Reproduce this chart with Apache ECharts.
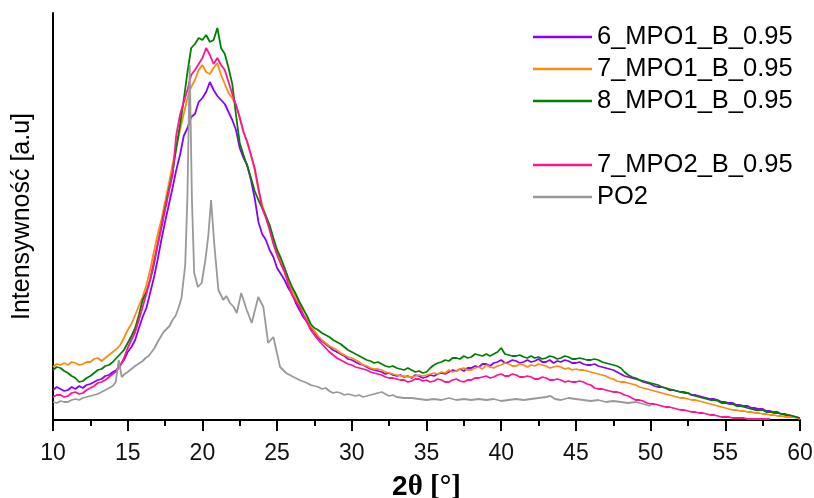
<!DOCTYPE html>
<html>
<head>
<meta charset="utf-8">
<script src="https://cdn.jsdelivr.net/npm/echarts@6/dist/echarts.min.js"></script>
<style>html,body{margin:0;padding:0;background:#fff}#c{width:814px;height:498px}</style>
</head>
<body>
<div id="c"></div>
<script>
// 2θ grid for the four MPO series: 10° .. 60° in 0.25° steps
const thetaStart = 10, thetaStep = 0.25;
const seriesNames = ['6_MPO1_B_0.95', '7_MPO1_B_0.95', '8_MPO1_B_0.95', '7_MPO2_B_0.95', 'PO2'];
const xTicks = [10, 15, 20, 25, 30, 35, 40, 45, 50, 55, 60];

const mpo1_6 = [30,33,31,29,30,33,31,34,32,35,36,38,40,41,44,45,48,50,55,60,68,73,80,92,103,112,127,142,160,180,198,215,232,250,265,284,292,303,306,318,322,328,338,330,324,320,316,308,300,290,272,262,255,240,222,198,186,180,170,163,152,146,140,132,126,117,110,103,98,92,88,82,79,76,73,70,68,66,64,61,60,58,56,55,53,51,50,49,48,46,47,45,44,45,43,44,42,45,44,42,43,45,44,46,47,46,48,50,49,51,49,52,52,54,53,56,56,54,57,58,60,57,58,60,59,57,58,60,58,59,61,58,58,60,57,59,58,60,59,57,57,58,56,55,55,56,54,53,52,51,50,48,46,44,43,42,41,40,38,37,36,34,33,33,32,30,30,29,28,28,27,25,25,24,23,22,21,21,20,18,18,17,17,15,15,14,14,12,12,11,11,9,9,8,8,6,6,5,4,3,2];

const mpo1_7 = [53,56,55,57,55,58,57,55,56,58,58,61,62,59,62,65,68,71,75,82,90,96,105,114,123,135,150,168,185,200,218,236,255,272,290,306,322,333,340,350,355,348,346,352,357,345,336,327,322,315,303,288,278,265,250,230,215,204,192,178,166,160,152,140,130,122,116,106,100,94,89,84,80,77,74,72,70,67,65,63,62,60,58,55,54,52,51,51,50,48,47,46,45,44,44,43,43,44,45,44,45,46,47,46,48,47,50,48,49,51,52,50,50,52,53,51,55,53,52,54,55,57,56,54,54,56,55,53,55,54,56,55,54,52,53,54,53,51,52,50,51,50,50,49,48,47,46,45,44,42,41,39,38,38,37,36,35,33,32,31,30,29,28,27,26,25,24,23,22,22,21,20,20,19,18,17,16,15,14,13,12,11,10,10,9,9,8,8,7,7,6,6,5,5,4,4,3,3,3,2,1];

const mpo1_8 = [50,53,52,49,47,44,42,38,39,42,44,47,50,51,54,55,58,62,66,70,77,84,92,105,120,128,140,155,175,193,212,230,247,272,295,320,348,372,376,382,380,385,378,380,392,372,366,352,336,305,277,265,254,242,229,220,212,204,195,182,170,162,152,142,133,126,118,111,104,96,92,90,87,85,83,80,78,76,73,70,68,66,64,62,60,59,57,58,56,54,53,54,52,51,50,52,50,48,49,47,48,52,55,57,58,60,59,62,62,61,64,62,63,66,65,64,66,64,66,68,72,66,65,64,64,65,63,62,64,62,63,61,62,64,63,61,62,64,63,61,61,62,61,60,60,61,60,58,57,56,55,54,52,48,45,43,42,40,39,38,37,36,35,33,32,31,30,29,28,27,27,25,24,23,22,21,20,20,19,17,17,16,16,14,14,13,12,11,10,10,10,8,8,7,7,6,5,5,4,3,2];

const mpo2_7 = [23,25,25,23,24,27,28,26,27,30,32,34,37,38,40,43,46,49,54,62,72,80,88,100,113,126,140,158,175,192,210,228,245,285,305,318,330,345,350,356,362,372,365,356,362,355,350,338,326,315,302,288,278,265,252,232,212,202,190,176,165,156,148,136,125,119,113,105,98,90,85,80,76,72,68,65,62,60,58,56,55,53,52,51,50,48,47,46,45,43,42,42,41,40,40,38,39,41,41,39,40,38,39,41,40,38,38,40,41,39,38,40,40,42,42,43,44,42,43,45,46,44,44,46,45,43,43,44,43,41,41,43,42,40,40,41,40,38,39,38,38,39,38,36,35,32,31,31,30,29,28,28,27,25,24,22,20,20,19,17,16,16,15,14,13,13,12,11,10,10,9,8,8,7,7,6,5,5,4,3,3,3,2,2,2,2,1,1,1,1,1,1,1];

// PO2 reference (uneven 2θ sampling around the sharp reflections)
const po2X = [10,10.25,10.5,10.75,11,11.25,11.5,11.75,12,12.25,12.5,12.75,13,13.25,13.5,13.75,14,14.2,14.4,14.6,14.8,15,15.25,15.5,15.8,16,16.2,16.4,16.6,16.8,17,17.2,17.4,17.6,17.8,18,18.2,18.4,18.6,18.85,19.0,19.15,19.3,19.45,19.7,19.95,20.2,20.4,20.58,20.8,21.07,21.4,21.6,21.85,22.1,22.3,22.6,22.97,23.3,23.74,24.08,24.4,24.75,25.2,25.6,26.1,26.5,27,27.25,27.5,27.75,28,28.25,28.5,28.75,29,29.25,29.5,29.75,30,30.25,30.5,30.75,31,31.25,31.5,31.75,32,32.25,32.5,32.75,33,33.5,34,34.5,35,35.5,36,36.5,37,37.5,38,38.5,39,39.5,40,40.5,41,41.5,42,42.5,43,43.3,43.6,44,44.5,45,45.5,46,46.5,47,47.5,48,48.5,49,49.5,50];
const po2Y = [18,17,19,18,18,20,21,20,22,23,24,25,26,28,30,32,34,38,60,43,46,48,51,54,57,59,62,64,68,72,78,83,88,91,94,100,104,112,122,155,225,355,220,147,133,137,160,185,220,175,130,120,124,117,113,107,127,110,97,123,113,77,83,53,47,43,40,37,35,34,33,31,32,29,27,28,27,25,26,25,24,25,23,24,25,26,27,28,26,24,25,23,22,22,21,20,21,20,22,20,21,20,21,20,21,19,20,21,20,21,22,23,24,21,20,22,21,20,19,20,18,19,18,17,18,16,14];

function pairs(arr) { return arr.map((v, i) => [thetaStart + i * thetaStep, v]); }

const colors = ['#8a00ff', '#ff8a10', '#008000', '#ff1493', '#999999'];
const FONT = '"Liberation Sans", Arial, sans-serif';

const chart = echarts.init(document.getElementById('c'), null, { renderer: 'canvas' });
const lineSeries = (name, data, color) => ({
  name, type: 'line', data, showSymbol: false, symbol: 'none',
  lineStyle: { color, width: 1.8 }, itemStyle: { color }, animation: false
});

const legendBase = {
  orient: 'vertical', left: 528, icon: 'rect', itemWidth: 59, itemHeight: 2.5, itemGap: 4,
  textStyle: { fontSize: 25.5, fontFamily: FONT, color: '#000', lineHeight: 28 }
};

chart.setOption({
  animation: false,
  backgroundColor: '#fff',
  color: colors,
  grid: { left: 53, right: 14, top: 13, bottom: 78, containLabel: false, outerBoundsMode: 'none' },
  legend: [
    Object.assign({}, legendBase, { data: seriesNames.slice(0, 3), top: 18 }),
    Object.assign({}, legendBase, { data: seriesNames.slice(3), top: 146 })
  ],
  xAxis: {
    type: 'value', min: 10, max: 60, interval: 5,
    name: '{a|2}{b|θ [°]}', nameLocation: 'middle', nameGap: 53,
    nameTextStyle: {
      rich: {
        a: { fontSize: 28, fontWeight: 'bold', fontFamily: FONT, color: '#000' },
        b: { fontSize: 29, fontFamily: '"Liberation Serif", "Times New Roman", serif', color: '#000', fontWeight: 'bold' }
      }
    },
    axisLine: { show: true, onZero: false, lineStyle: { color: '#000', width: 2 } },
    axisTick: { show: true, inside: false, length: 11, lineStyle: { color: '#000', width: 2 } },
    minorTick: { show: true, splitNumber: 2, length: 6, lineStyle: { color: '#000', width: 2 } },
    splitLine: { show: false },
    axisLabel: {
      fontSize: 23, fontFamily: FONT, color: '#111', margin: 22,
      formatter: v => (xTicks.includes(v) ? String(v) : '')
    }
  },
  yAxis: {
    type: 'value', min: 0, max: 407,
    name: 'Intensywność [a.u]', nameLocation: 'middle', nameGap: 18, nameRotate: 90,
    nameTextStyle: { fontSize: 25, fontFamily: FONT, color: '#000' },
    axisLine: { show: true, onZero: false, lineStyle: { color: '#000', width: 2 } },
    axisTick: { show: false }, axisLabel: { show: false }, splitLine: { show: false }
  },
  series: [
    lineSeries(seriesNames[0], pairs(mpo1_6), colors[0]),
    lineSeries(seriesNames[1], pairs(mpo1_7), colors[1]),
    lineSeries(seriesNames[2], pairs(mpo1_8), colors[2]),
    lineSeries(seriesNames[3], pairs(mpo2_7), colors[3]),
    lineSeries(seriesNames[4], po2X.map((x, i) => [x, po2Y[i]]), colors[4])
  ]
});
</script>
</body>
</html>
